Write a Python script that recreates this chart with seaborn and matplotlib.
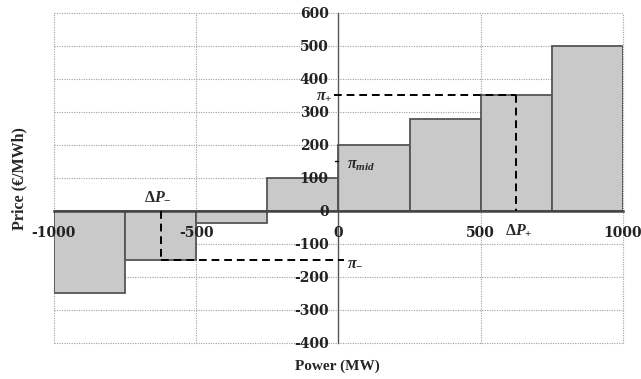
import matplotlib
matplotlib.use("Agg")
import matplotlib.pyplot as plt
import seaborn as sns
import pandas as pd

# ---- data ----
bid_centers = [-875, -625, -375, -125, 125, 375, 625, 875]   # MW (block centers, 250 MW blocks)
bid_prices = [-250, -150, -35, 100, 200, 280, 350, 500]      # EUR/MWh
x_ticks = [-1000, -500, 0, 500, 1000]
y_ticks = [-400, -300, -200, -100, 0, 100, 200, 300, 400, 500, 600]
pi_plus = 350
pi_minus = -150
pi_mid = 150
dp_plus = 625
dp_minus = -625

sns.set_theme(style="white")
plt.rcParams['font.family'] = ['Liberation Serif', 'DejaVu Serif']
plt.rcParams['font.weight'] = 'bold'
plt.rcParams['mathtext.fontset'] = 'custom'
plt.rcParams['mathtext.rm'] = 'Liberation Serif:bold'
plt.rcParams['mathtext.it'] = 'Liberation Serif:italic:bold'
plt.rcParams['mathtext.bf'] = 'Liberation Serif:bold'

df = pd.DataFrame({"power": bid_centers, "price": bid_prices})

fig = plt.figure(figsize=(6.41, 3.79), dpi=100)
ax = fig.add_axes([0.084, 0.095, 0.888, 0.871])

# grid (dotted) drawn beneath bars
for yt in y_ticks:
    ax.axhline(yt, color='#a0a0a0', ls=(0, (1, 1.2)), lw=0.8, zorder=0, clip_on=False)
for xt in x_ticks:
    if xt != 0:
        ax.axvline(xt, color='#a0a0a0', ls=(0, (1, 1.2)), lw=0.8, zorder=0, clip_on=False)

sns.barplot(data=df, x="power", y="price", native_scale=True, width=1,
            color='#c9c9c9', saturation=1, edgecolor='#555555', linewidth=1.3,
            errorbar=None, ax=ax, zorder=1)

ax.set_xlim(-1000, 1000)
ax.set_ylim(-400, 600)

# spines through origin
for s in ['top', 'right']:
    ax.spines[s].set_visible(False)
ax.spines['left'].set_position(('data', 0))
ax.spines['bottom'].set_position(('data', 0))
ax.spines['left'].set_color('#555555')
ax.spines['bottom'].set_color('#444444')
ax.spines['left'].set_linewidth(1.0)
ax.spines['bottom'].set_linewidth(1.8)
ax.spines['left'].set_zorder(3)
ax.spines['bottom'].set_zorder(3)

tick_font = dict(fontsize=10, fontweight='bold', family=['DejaVu Serif'])
ax.set_xticks(x_ticks)
ax.set_yticks(y_ticks)
ax.set_xticklabels([str(v) for v in x_ticks], **tick_font)
ax.set_yticklabels([str(v) for v in y_ticks], **tick_font)
ax.tick_params(axis='x', length=0, pad=11, colors='#222222')
ax.tick_params(axis='y', length=0, pad=7, colors='#222222')
ax.xaxis.set_zorder(4)
ax.yaxis.set_zorder(4)

ax.set_xlabel('')
ax.set_ylabel('')
fig.text(0.527, 0.015, 'Power (MW)', ha='center', va='bottom', fontsize=11, fontweight='bold')
fig.text(0.03, 0.53, 'Price (€/MWh)', ha='center', va='center', rotation=90, fontsize=11.5, fontweight='bold')

# dashed guide lines
dash = dict(color='black', ls=(0, (4, 2.5)), lw=1.4, zorder=5)
ax.plot([-15, dp_plus], [pi_plus, pi_plus], **dash)
ax.plot([dp_plus, dp_plus], [pi_plus, 0], **dash)
ax.plot([dp_minus, 20], [pi_minus, pi_minus], **dash)
ax.plot([dp_minus, dp_minus], [0, pi_minus], **dash)
ax.plot([-12, 0], [pi_mid, pi_mid], color='black', lw=1.0, zorder=5)

# annotations
ax.text(-22, pi_plus, r'$\pi_{+}$', ha='right', va='center', fontsize=11.5, zorder=6)
ax.text(30, pi_minus - 5, r'$\pi_{-}$', ha='left', va='center', fontsize=11.5, zorder=6)
ax.text(30, pi_mid - 10, r'$\pi_{mid}$', ha='left', va='center', fontsize=11.5, zorder=6)
ax.text(dp_minus - 10, 45, r'$\Delta P_{-}$', ha='center', va='center', fontsize=11.5, zorder=6)
ax.text(dp_plus + 10, -60, r'$\Delta P_{+}$', ha='center', va='center', fontsize=11.5, zorder=6)

fig.savefig('out.png', dpi=100, facecolor='white')
